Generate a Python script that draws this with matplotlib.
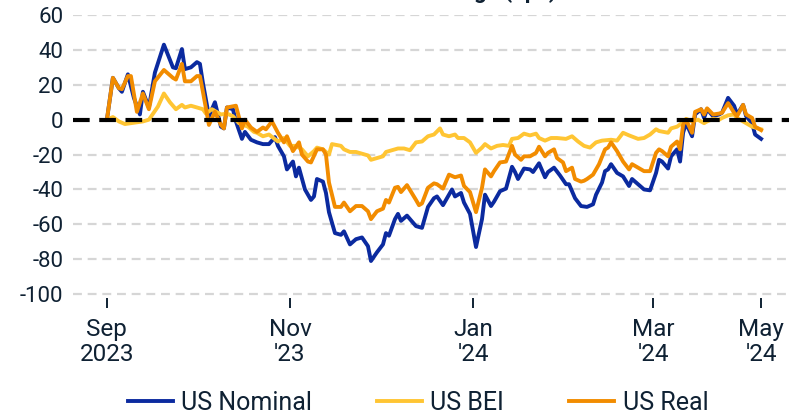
import matplotlib
matplotlib.use("Agg")
import matplotlib.pyplot as plt

# days since 1 Sep 2023, cumulative change in bps
nominal_days = [0, 2, 4, 5, 7, 9, 11, 12, 14, 16, 19, 22, 23, 25, 26, 28, 30, 31, 32, 34,
                36, 38, 39, 40, 42, 43, 45, 46, 48, 50, 52, 54, 56, 57, 59, 60, 62, 63, 64, 66,
                68, 69, 70, 72, 73, 74, 76, 78, 79, 81, 83, 85, 87, 88, 90, 92, 93, 94, 96, 97,
                98, 100, 103, 105, 107, 109, 110, 112, 115, 116, 118, 119, 121, 123, 125, 126, 128, 129, 131, 133,
                135, 136, 137, 139, 141, 142, 144, 146, 147, 149, 151, 153, 154, 156, 158, 160, 162, 163, 165, 166,
                167, 168, 170, 172, 174, 175, 177, 179, 181, 183, 184, 185, 187, 188, 190, 191, 192, 193, 195, 196,
                198, 199, 200, 202, 204, 205, 207, 209, 210, 212, 213, 215, 216, 218]
nominal = [0, 24, 18, 16, 26, 12.5, 3, 16, 7, 27, 43, 30, 29.5, 40.5, 29, 30, 33, 32, 21, 2,
           10, -4, -5, 7, 6, -1, -11, -7, -11.5, -13, -14, -14, -10, -15, -21, -28.5, -24, -32.5, -27.5, -40,
           -46, -44, -34, -35.5, -42, -53, -65, -66, -64, -71.5, -68.5, -67.5, -72.5, -81, -76, -71.5, -65, -66.5, -57, -54,
           -58, -55, -61, -62, -50, -45, -44, -49, -40, -44, -42, -47.5, -54, -73, -57, -43, -49.5, -47, -41, -39.5,
           -27, -30, -34, -28, -28.5, -30, -25, -33, -30, -27.5, -32, -37, -37, -45, -49.5, -50, -48.5, -43, -36, -29.5,
           -28.5, -25.5, -30.5, -32.5, -38, -34, -37, -40, -40.5, -30.5, -23, -24, -28, -21, -17, -24, -7.5, -2, -9.5, 3,
           6, 1, 6, 2, 3, 4, 12.5, 8, 3, 8.5, 2, -2, -8.5, -11]

bei_days = [0, 2, 4, 6, 8, 10, 12, 14, 17, 19, 21, 23, 25, 26, 28, 30, 32, 33, 35, 38,
            40, 42, 44, 47, 49, 50, 52, 54, 57, 59, 61, 63, 65, 67, 69, 70, 72, 74, 75, 78,
            79, 81, 83, 85, 87, 88, 90, 92, 93, 94, 97, 99, 101, 103, 105, 107, 109, 111, 112, 114,
            116, 117, 119, 121, 123, 125, 126, 128, 130, 132, 134, 135, 137, 139, 141, 143, 144, 146, 148, 150,
            153, 155, 157, 159, 161, 163, 165, 168, 170, 172, 174, 177, 179, 181, 183, 184, 187, 188, 190, 192,
            193, 195, 197, 199, 200, 202, 204, 205, 207, 209, 210, 212, 214, 215, 217, 218]
bei = [0, 1.5, -1, -2.5, -2, -1.5, -1, 0, 7.5, 15, 10, 6, 8.5, 7, 8, 7, 6, 3.5, 6, 3,
       3.5, 2, -2, -4, -7, -7.5, -9.5, -8.5, -12.5, -10.5, -15, -15, -17, -21, -18, -16, -17, -20, -14, -15,
       -17, -18.5, -18.5, -19.5, -20.5, -23, -22, -21, -18.5, -18, -16.5, -16.5, -17.5, -13, -12.5, -9.5, -8.5, -5, -8.5, -9.5,
       -8.5, -10.5, -10.5, -13, -19, -16, -14, -16.5, -15, -14.5, -15, -11, -10.5, -8, -9, -8, -10.5, -12, -10.5, -10.5,
       -11, -9.5, -12.5, -15, -16, -13, -12, -11.5, -12, -7.5, -9, -11, -10.5, -8.5, -5.5, -6.5, -7.5, -5, -4, -1.5,
       0.5, -1, 0, -2, -1, 0.5, 0, 1, 2.5, 3, 1, -1, -3, -4, -5, -5.5]

real_days = [0, 2, 4, 5, 7, 8, 10, 12, 14, 16, 19, 22, 23, 25, 26, 28, 30, 31, 32, 34,
             36, 38, 39, 40, 43, 45, 46, 48, 50, 52, 53, 55, 57, 59, 60, 62, 64, 65, 67, 68,
             70, 72, 73, 74, 76, 78, 79, 81, 83, 85, 87, 88, 90, 92, 93, 94, 96, 97, 98, 100,
             103, 104, 105, 107, 109, 110, 112, 114, 116, 118, 119, 121, 123, 125, 126, 128, 129, 131, 133, 135,
             136, 138, 139, 141, 143, 144, 146, 147, 149, 150, 152, 153, 155, 156, 158, 159, 160, 162, 164, 166,
             167, 168, 170, 172, 174, 175, 177, 179, 181, 183, 184, 185, 187, 188, 190, 191, 192, 193, 195, 196,
             198, 199, 200, 202, 204, 205, 207, 209, 210, 212, 213, 215, 216, 218]
real = [0, 24, 18, 17.5, 25, 25, 4.5, 15, 6, 22, 28.5, 24, 23, 32, 22, 22, 25, 25, 16, -3,
        4.5, -3, -5, 7, 8, -5, 0, -4.5, -7, -4.5, -5.5, -1, -7.5, -13, -9.5, -18, -13, -20, -24, -24.5,
        -17, -17, -20, -36, -50, -50, -47.5, -52.5, -49.5, -49.5, -52.5, -57, -52.5, -51, -46, -47.5, -39, -38.5, -41.5, -37.5,
        -46, -49, -48, -39, -36.5, -37, -39.5, -31.5, -33, -32, -38, -41.5, -53, -39, -28.5, -32.5, -29.5, -24.5, -24, -15,
        -20, -23, -21, -21, -19, -15.5, -21, -19, -17, -22, -24.5, -29.5, -27.5, -34, -35.5, -35, -34, -31.5, -25.5, -17,
        -16, -13, -18, -24, -28.5, -25.5, -27.5, -29.5, -29.5, -19, -17, -18, -21, -15.5, -12.5, -17, -3, 0, -7.5, 4.5,
        6, 3, 6.5, 3, 3.5, 4, 9.5, 4, 2, 8.5, 3, 1, -4, -6]

tick_days = [0, 61, 122, 182, 218]
tick_labels = ["Sep\n2023", "Nov\n'23", "Jan\n'24", "Mar\n'24", "May\n'24"]
y_ticks = [-100, -80, -60, -40, -20, 0, 20, 40, 60]

TEXT = "#0f2133"
plt.rcParams["font.family"] = ["Roboto", "DejaVu Sans"]
plt.rcParams["axes.unicode_minus"] = False

fig = plt.figure(figsize=(7.89, 4.17), dpi=100)
ax = fig.add_axes([0.0925, 0.285, 0.9075, 0.679])

ax.plot(nominal_days, nominal, color="#0b2a9f", lw=2.8, label="US Nominal", zorder=3)
ax.plot(bei_days, bei, color="#ffc533", lw=2.8, label="US BEI", zorder=4)
ax.plot(real_days, real, color="#f28c00", lw=2.8, label="US Real", zorder=5)
ax.axhline(0, color="black", lw=3, dashes=(4, 2.3), zorder=6)

ax.set_ylim(-102.3, 60)
ax.set_xlim(-11.3, 227.3)
ax.set_yticks(y_ticks)
ax.set_xticks(tick_days)
ax.set_xticklabels(tick_labels, linespacing=1.1)
for v in y_ticks:
    if v != 0:
        ax.axhline(v, color="#d6d6d6", lw=1.6, dashes=(4, 2.6), zorder=1)

for s in ax.spines.values():
    s.set_visible(False)
ax.tick_params(axis="y", length=0, pad=7, labelsize=16, labelcolor=TEXT)
ax.tick_params(axis="x", length=7.5, width=1.4, color=TEXT, pad=7, labelsize=17.5, labelcolor=TEXT)

# chart title sits above the canvas edge
fig.text(0.546, 1.004, "Cumulative Change (bps)", ha="center", va="baseline",
         fontsize=16, fontweight="bold", color=TEXT)

fig.legend(loc="center", bbox_to_anchor=(0.53, 0.033), ncol=3, frameon=False,
           fontsize=18, handlelength=1.8, handletextpad=0.33, columnspacing=2.6,
           labelcolor=TEXT)

fig.savefig("out.png", dpi=100)
